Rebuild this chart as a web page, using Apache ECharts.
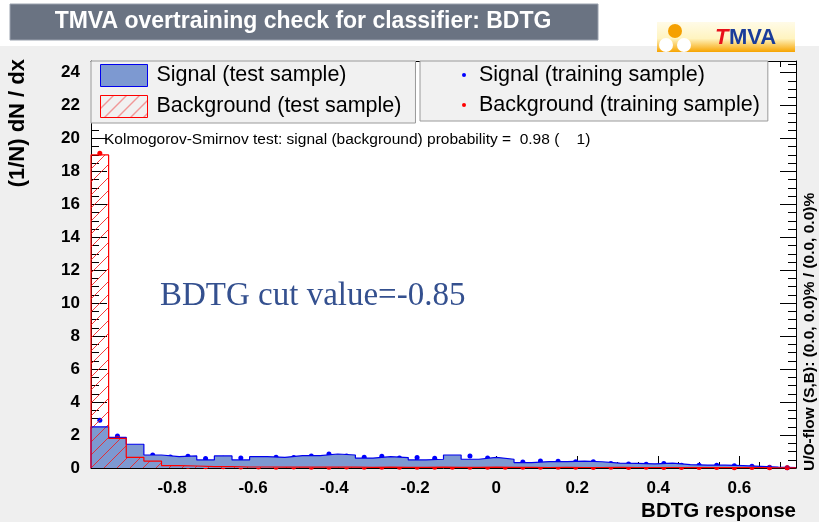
<!DOCTYPE html>
<html>
<head>
<meta charset="utf-8">
<script src="https://cdn.jsdelivr.net/npm/echarts@6/dist/echarts.min.js"></script>
<style>
  html, body { margin: 0; padding: 0; background: #efefef; }
  #chart { width: 819px; height: 522px; }
</style>
</head>
<body>
<div id="chart"></div>
<script>
// histogram binning (40 bins, TMVA default)
const xMin = -1.0;
const xMax = 0.74;
const nBins = 40;

// signal, test sample (normalised, per bin)
const sigTest = [2.5, 1.86, 1.44, 0.79, 0.69, 0.73, 0.49, 0.73, 0.49, 0.69,
                 0.65, 0.75, 0.75, 0.85, 0.79, 0.60, 0.69, 0.63, 0.49, 0.53,
                 0.79, 0.53, 0.65, 0.53, 0.33, 0.39, 0.39, 0.42, 0.38, 0.30,
                 0.28, 0.25, 0.30, 0.20, 0.18, 0.17, 0.14, 0.10, 0.05, 0.03];
// background, test sample
const bkgTest = [19.0, 1.80, 0.65, 0.42, 0.15, 0.12, 0.08, 0.08, 0.06, 0.06,
                 0.05, 0.05, 0.06, 0.05, 0.05, 0.04, 0.05, 0.04, 0.04, 0.05,
                 0.04, 0.04, 0.05, 0.04, 0.04, 0.03, 0.04, 0.03, 0.03, 0.04,
                 0.03, 0.03, 0.03, 0.02, 0.03, 0.02, 0.02, 0.02, 0.01, 0.01];
// signal, training sample
const sigTrain = [2.9, 1.94, 1.23, 0.79, 0.67, 0.71, 0.57, 0.59, 0.61, 0.57,
                  0.65, 0.63, 0.73, 0.85, 0.73, 0.65, 0.71, 0.61, 0.63, 0.59,
                  0.59, 0.73, 0.61, 0.41, 0.37, 0.43, 0.41, 0.38, 0.38, 0.28,
                  0.24, 0.22, 0.28, 0.16, 0.16, 0.16, 0.14, 0.10, 0.04, 0.02];
// background, training sample
const bkgTrain = [19.1, 1.80, 0.63, 0.36, 0.18, 0.10, 0.08, 0.07, 0.06, 0.06,
                  0.05, 0.06, 0.05, 0.05, 0.06, 0.05, 0.05, 0.05, 0.04, 0.05,
                  0.05, 0.04, 0.04, 0.05, 0.04, 0.04, 0.04, 0.04, 0.03, 0.04,
                  0.03, 0.04, 0.03, 0.03, 0.03, 0.03, 0.02, 0.03, 0.02, 0.02];

const binW = (xMax - xMin) / nBins;

// step outline for a histogram: left edges + closing points
function stepData(vals) {
    const pts = [[xMin, 0]];
    vals.forEach((v, i) => pts.push([xMin + i * binW, v]));
    pts.push([xMax, vals[vals.length - 1]]);
    pts.push([xMax, 0]);
    return pts;
}
function pointData(vals) {
    return vals.map((v, i) => [xMin + (i + 0.5) * binW, v]);
}

// hatch pattern "///" for background
const hatch = document.createElement('canvas');
hatch.width = 13; hatch.height = 13;
const hc = hatch.getContext('2d');
hc.strokeStyle = 'rgba(240,30,30,0.85)';
hc.lineWidth = 1;
hc.beginPath();
hc.moveTo(-1, 14); hc.lineTo(14, -1);
hc.stroke();

const sigFill = '#7d99d1';
const font = 'Liberation Sans';

var myChart = echarts.init(document.getElementById('chart'));
var option;

const tickStyle = { color: '#000', width: 1 };

option = {
    backgroundColor: '#efefef',
    animation: false,
    textStyle: { fontFamily: font },
    grid: { left: 91, right: 23, top: 61, bottom: 54, show: true, backgroundColor: '#fff', borderWidth: 0 },
    xAxis: [
        {
            type: 'value', min: xMin, max: xMax, interval: 0.2,
            axisLine: { show: true, onZero: false, lineStyle: { color: '#000' } },
            axisTick: { show: true, inside: true, length: 12, lineStyle: tickStyle },
            minorTick: { show: true, splitNumber: 4, length: 6, lineStyle: tickStyle },
            splitLine: { show: false },
            axisLabel: {
                showMinLabel: false, showMaxLabel: false, margin: 12,
                color: '#000', fontSize: 17, fontWeight: 'bold', fontFamily: font
            }
        },
        {
            type: 'value', min: xMin, max: xMax, interval: 0.2, position: 'top',
            axisLine: { show: true, onZero: false, lineStyle: { color: '#000' } },
            axisTick: { show: true, inside: true, length: 12, lineStyle: tickStyle },
            minorTick: { show: true, splitNumber: 4, length: 6, lineStyle: tickStyle },
            splitLine: { show: false },
            axisLabel: { show: false }
        }
    ],
    yAxis: [
        {
            type: 'value', min: 0, max: 24.7, interval: 2,
            axisLine: { show: true, onZero: false, lineStyle: { color: '#000' } },
            axisTick: { show: true, inside: true, length: 16, lineStyle: tickStyle },
            minorTick: { show: true, splitNumber: 4, length: 8, lineStyle: tickStyle },
            splitLine: { show: false },
            axisLabel: {
                showMaxLabel: false, margin: 11,
                color: '#000', fontSize: 17, fontWeight: 'bold', fontFamily: font
            }
        },
        {
            type: 'value', min: 0, max: 24.7, interval: 2, position: 'right',
            axisLine: { show: true, onZero: false, lineStyle: { color: '#000' } },
            axisTick: { show: true, inside: true, length: 16, lineStyle: tickStyle },
            minorTick: { show: true, splitNumber: 4, length: 8, lineStyle: tickStyle },
            splitLine: { show: false },
            axisLabel: { show: false }
        }
    ],
    legend: [
        {
            orient: 'vertical', left: 91, top: 61,
            padding: [3, 14, 5, 9], itemGap: 8,
            backgroundColor: '#f1f1f1', borderColor: '#9a9a9a', borderWidth: 1,
            itemWidth: 47, itemHeight: 22, icon: 'rect',
            textStyle: { fontSize: 21.5, lineHeight: 22, color: '#000', fontFamily: font, padding: [0, 0, 0, 4] },
            data: [
                { name: 'Signal (test sample)', itemStyle: { color: sigFill, borderColor: '#0000ee', borderWidth: 1 } },
                { name: 'Background (test sample)', itemStyle: { color: { image: hatch, repeat: 'repeat' }, borderColor: '#ff0000', borderWidth: 1 } }
            ]
        },
        {
            orient: 'vertical', left: 420, top: 61,
            padding: [3, 8, 5, 42], itemGap: 8,
            backgroundColor: '#f1f1f1', borderColor: '#9a9a9a', borderWidth: 1,
            itemWidth: 4, itemHeight: 4, icon: 'circle',
            textStyle: { fontSize: 21.5, lineHeight: 22, color: '#000', fontFamily: font, padding: [0, 0, 0, 8] },
            data: [
                { name: 'Signal (training sample)', itemStyle: { color: '#0000ff' } },
                { name: 'Background (training sample)', itemStyle: { color: '#ff0000' } }
            ]
        }
    ],
    series: [
        {
            name: 'Signal (test sample)', type: 'line', step: 'end',
            data: stepData(sigTest), symbol: 'none',
            lineStyle: { color: '#0000ee', width: 1.2 },
            itemStyle: { color: sigFill },
            areaStyle: { color: sigFill, opacity: 1 }
        },
        {
            name: 'Background (test sample)', type: 'line', step: 'end',
            data: stepData(bkgTest), symbol: 'none',
            lineStyle: { color: '#ff0000', width: 1.2 },
            itemStyle: { color: '#ff0000' },
            areaStyle: { color: { image: hatch, repeat: 'repeat' }, opacity: 1 }
        },
        {
            name: 'Signal (training sample)', type: 'scatter',
            data: pointData(sigTrain), symbol: 'circle', symbolSize: 5,
            itemStyle: { color: '#0000ff', opacity: 1 }
        },
        {
            name: 'Background (training sample)', type: 'scatter',
            data: pointData(bkgTrain), symbol: 'circle', symbolSize: 5,
            itemStyle: { color: '#ff0000', opacity: 1 }
        }
    ],
    graphic: [
        // white band behind title and logo
        { type: 'rect', shape: { x: 0, y: 0, width: 819, height: 46 }, style: { fill: '#ffffff' }, silent: true, z: -10 },
        // title box
        {
            type: 'rect', shape: { x: 10, y: 4, width: 588, height: 36 },
            style: { fill: '#6a7382', stroke: '#9aa2ae', lineWidth: 1 }
        },
        {
            type: 'text', x: 303, y: 22,
            style: {
                text: 'TMVA overtraining check for classifier: BDTG',
                font: 'bold 23px "Liberation Sans"', fill: '#ffffff',
                textAlign: 'center', textVerticalAlign: 'middle'
            }
        },
        // TMVA logo
        {
            type: 'group', x: 657, y: 22,
            children: [
                { type: 'rect', shape: { x: 0, y: 0, width: 138, height: 30 },
                  style: { fill: new echarts.graphic.LinearGradient(0, 0, 0, 1, [
                      { offset: 0, color: '#fffbe8' }, { offset: 0.55, color: '#fff4c0' }, { offset: 1, color: '#f7a400' }]) } },
                { type: 'circle', shape: { cx: 18, cy: 9, r: 7 }, style: { fill: '#f5a000' } },
                { type: 'circle', shape: { cx: 9, cy: 23, r: 7 }, style: { fill: '#ffffff' } },
                { type: 'circle', shape: { cx: 27, cy: 23, r: 7 }, style: { fill: '#ffffff' } },
                { type: 'text', x: 58, y: 16, style: { text: 'T', font: 'italic bold 22px "Liberation Sans"', fill: '#e8101a', textVerticalAlign: 'middle' } },
                { type: 'text', x: 72, y: 16, style: { text: 'MVA', font: 'bold 22px "Liberation Sans"', fill: '#1a3c9a', textVerticalAlign: 'middle' } }
            ]
        },
        // axis titles
        {
            type: 'text', x: 18, y: 59, rotation: Math.PI / 2,
            style: {
                text: '(1/N) dN / dx', font: 'bold 22px "Liberation Sans"', fill: '#000',
                textAlign: 'right', textVerticalAlign: 'middle'
            }
        },
        {
            type: 'text', x: 796, y: 511,
            style: {
                text: 'BDTG response', font: 'bold 20.5px "Liberation Sans"', fill: '#000',
                textAlign: 'right', textVerticalAlign: 'middle'
            }
        },
        {
            type: 'text', x: 810, y: 471, rotation: Math.PI / 2,
            style: {
                text: 'U/O-flow (S,B): (0.0, 0.0)% / (0.0, 0.0)%', font: 'bold 15.5px "Liberation Sans"', fill: '#000',
                textAlign: 'left', textVerticalAlign: 'middle'
            }
        },
        {
            type: 'text', x: 104, y: 140,
            style: {
                text: 'Kolmogorov-Smirnov test: signal (background) probability =  0.98 (    1)',
                font: '15.5px "Liberation Sans"', fill: '#000',
                textAlign: 'left', textVerticalAlign: 'middle'
            }
        },
        {
            type: 'text', x: 160, y: 296,
            style: {
                text: 'BDTG cut value=-0.85', font: '33px "Liberation Serif"', fill: '#34508f',
                textAlign: 'left', textVerticalAlign: 'middle'
            }
        }
    ]
};

option && myChart.setOption(option);
</script>
</body>
</html>
